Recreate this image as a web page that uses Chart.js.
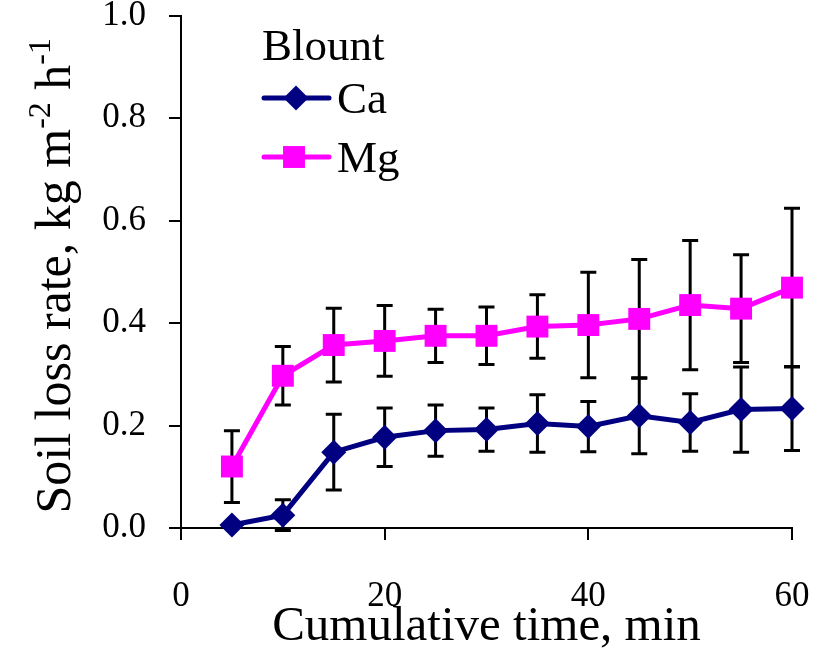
<!DOCTYPE html>
<html>
<head>
<meta charset="utf-8">
<script src="https://cdn.jsdelivr.net/npm/chart.js@4.4.1/dist/chart.umd.min.js"></script>
<style>
  html, body { margin: 0; padding: 0; background: #ffffff; }
  #wrap { width: 823px; height: 657px; position: relative; }
</style>
</head>
<body>
<div id="wrap"><canvas id="c" width="823" height="657"></canvas></div>
<script>
// ---- data ----
const times = [5, 10, 15, 20, 25, 30, 35, 40, 45, 50, 55, 60];
const caValues = [0.006, 0.025, 0.148, 0.177, 0.190, 0.192, 0.204, 0.198, 0.219, 0.206, 0.231, 0.233];
const caErrors = [0.000, 0.030, 0.074, 0.057, 0.050, 0.042, 0.056, 0.049, 0.074, 0.056, 0.083, 0.082];
const mgValues = [0.120, 0.297, 0.357, 0.365, 0.375, 0.375, 0.393, 0.396, 0.408, 0.435, 0.428, 0.469];
const mgErrors = [0.070, 0.057, 0.072, 0.069, 0.052, 0.056, 0.062, 0.103, 0.116, 0.126, 0.105, 0.155];
const xTicks = [0, 20, 40, 60];
const yTicks = [0.0, 0.2, 0.4, 0.6, 0.8, 1.0];
const legendTitle = 'Blount';
const seriesNames = ['Ca', 'Mg'];
const xTitle = 'Cumulative time, min';

const SERIF = '"Liberation Serif", "Times New Roman", serif';
const CA_COLOR = '#000080';
const MG_COLOR = '#ff00ff';

const toPoints = (vals) => times.map((t, i) => ({ x: t, y: vals[i] }));

const errorBarPlugin = {
  id: 'errorBars',
  beforeDatasetsDraw(chart) {
    const ctx = chart.ctx, xs = chart.scales.x, ys = chart.scales.y;
    const errs = [caErrors, mgErrors];
    ctx.save();
    ctx.strokeStyle = '#000000';
    ctx.lineWidth = 3;
    chart.data.datasets.forEach((ds, di) => {
      ds.data.forEach((p, i) => {
        const e = errs[di][i];
        if (!e) return;
        const px = xs.getPixelForValue(p.x);
        const top = ys.getPixelForValue(p.y + e);
        const bot = ys.getPixelForValue(p.y - e);
        ctx.beginPath();
        ctx.moveTo(px, top); ctx.lineTo(px, bot);
        ctx.moveTo(px - 8, top); ctx.lineTo(px + 8, top);
        ctx.moveTo(px - 8, bot); ctx.lineTo(px + 8, bot);
        ctx.stroke();
      });
    });
    ctx.restore();
  }
};

const decorPlugin = {
  id: 'decor',
  afterDraw(chart) {
    const ctx = chart.ctx;
    ctx.save();
    // y-axis title with superscripts, rotated
    const big = 50, small = 32;
    const parts = [
      ['Soil loss rate, kg m', big, 0],
      ['-2', small, -0.4],
      [' h', big, 0],
      ['-1', small, -0.4]
    ];
    let total = 0;
    parts.forEach(p => { ctx.font = p[1] + 'px ' + SERIF; total += ctx.measureText(p[0]).width; });
    const cy = (chart.chartArea.top + chart.chartArea.bottom) / 2 + 4;
    ctx.translate(70, cy);
    ctx.rotate(-Math.PI / 2);
    ctx.fillStyle = '#000000';
    ctx.textBaseline = 'alphabetic';
    let x = -total / 2;
    parts.forEach(p => {
      ctx.font = p[1] + 'px ' + SERIF;
      ctx.fillText(p[0], x, p[2] * big);
      x += ctx.measureText(p[0]).width;
    });
    ctx.restore();

    // legend inside plot
    ctx.save();
    ctx.fillStyle = '#000000';
    ctx.font = '45px ' + SERIF;
    ctx.textBaseline = 'alphabetic';
    ctx.fillText(legendTitle, 262, 60);
    const rowsY = [98, 157];
    chart.data.datasets.forEach((ds, i) => {
      const y = rowsY[i];
      ctx.strokeStyle = ds.borderColor;
      ctx.lineWidth = ds.borderWidth;
      ctx.lineCap = 'round';
      ctx.beginPath(); ctx.moveTo(264, y); ctx.lineTo(329, y); ctx.stroke();
      ctx.fillStyle = ds.pointBackgroundColor;
      ctx.beginPath();
      if (ds.pointStyle === 'rectRot') {
        const r = ds.pointRadius;
        ctx.moveTo(296, y - r); ctx.lineTo(296 + r, y); ctx.lineTo(296, y + r); ctx.lineTo(296 - r, y);
        ctx.closePath();
      } else {
        const h = ds.pointRadius * Math.SQRT1_2;
        ctx.rect(294 - h, y - h, 2 * h, 2 * h);
      }
      ctx.fill();
      ctx.fillStyle = '#000000';
      ctx.font = '45px ' + SERIF;
      ctx.textBaseline = 'middle';
      ctx.fillText(seriesNames[i], 337, y + 3);
    });
    ctx.restore();
  }
};

new Chart(document.getElementById('c'), {
  type: 'line',
  data: {
    datasets: [
      {
        label: seriesNames[0],
        data: toPoints(caValues),
        borderColor: CA_COLOR,
        backgroundColor: CA_COLOR,
        pointBackgroundColor: CA_COLOR,
        pointBorderColor: CA_COLOR,
        pointBorderWidth: 0,
        borderWidth: 5,
        pointStyle: 'rectRot',
        pointRadius: 12.5,
        pointHoverRadius: 12.5,
        tension: 0,
        clip: false
      },
      {
        label: seriesNames[1],
        data: toPoints(mgValues),
        borderColor: MG_COLOR,
        backgroundColor: MG_COLOR,
        pointBackgroundColor: MG_COLOR,
        pointBorderColor: MG_COLOR,
        pointBorderWidth: 0,
        borderWidth: 5,
        pointStyle: 'rect',
        pointRadius: 15.5,
        pointHoverRadius: 15.5,
        tension: 0,
        clip: false
      }
    ]
  },
  options: {
    responsive: false,
    animation: false,
    events: [],
    layout: { padding: { top: 13, right: 31, left: 0, bottom: 0 } },
    plugins: {
      legend: { display: false },
      tooltip: { enabled: false }
    },
    scales: {
      x: {
        type: 'linear',
        min: 0, max: 60,
        afterBuildTicks: (s) => { s.ticks = xTicks.map(v => ({ value: v })); },
        afterFit: (s) => { s.height = 129; s.paddingLeft = 0; s.paddingRight = 0; },
        ticks: {
          color: '#000000',
          font: { family: SERIF, size: 35 },
          padding: 36,
          maxRotation: 0,
          autoSkip: false
        },
        grid: { drawOnChartArea: false, drawTicks: true, tickLength: 12, color: '#000000', lineWidth: 2 },
        border: { color: '#000000', width: 2 },
        title: {
          display: true,
          text: xTitle,
          color: '#000000',
          font: { family: SERIF, size: 49 },
          padding: { top: 0, bottom: 0 }
        }
      },
      y: {
        type: 'linear',
        min: 0, max: 1,
        afterBuildTicks: (s) => { s.ticks = yTicks.map(v => ({ value: v })); },
        afterFit: (s) => { s.width = 181; s.paddingTop = 0; s.paddingBottom = 0; },
        ticks: {
          color: '#000000',
          font: { family: SERIF, size: 35 },
          padding: 23,
          callback: (v) => Number(v).toFixed(1)
        },
        grid: { drawOnChartArea: false, drawTicks: true, tickLength: 12, color: '#000000', lineWidth: 2 },
        border: { color: '#000000', width: 2 }
      }
    }
  },
  plugins: [errorBarPlugin, decorPlugin]
});
</script>
</body>
</html>
